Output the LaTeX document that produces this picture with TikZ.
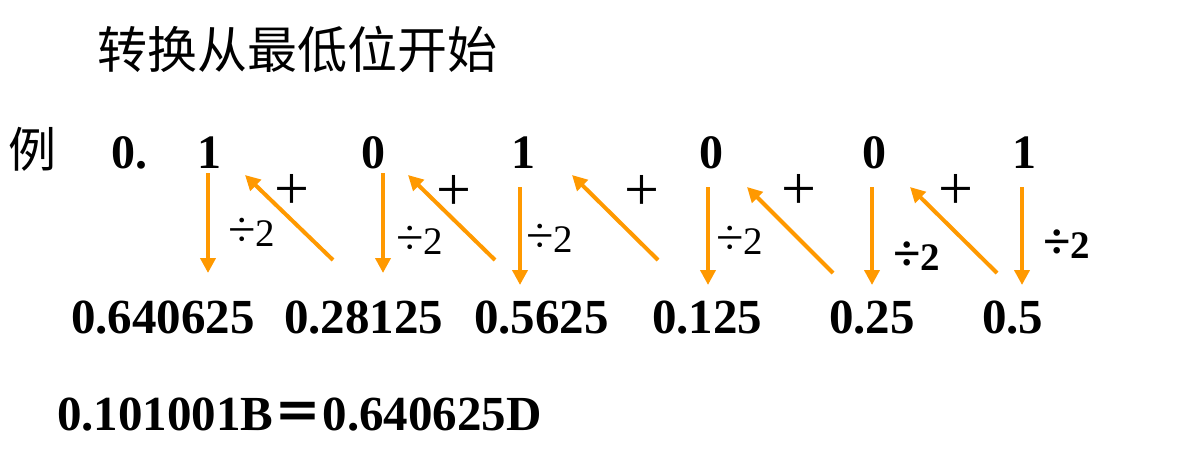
\documentclass[tikz,border=0pt]{standalone}
\usepackage{fontspec}
\setmainfont{Liberation Serif}
\newfontfamily\cjk{Noto Sans CJK SC}
\usetikzlibrary{arrows.meta}
\definecolor{arrowc}{RGB}{255,153,0}
\newcommand{\dvtwo}{{\fontsize{50}{50}\selectfont ÷}2}
\begin{document}
\begin{tikzpicture}[x=1pt,y=-1pt,
  num/.style={inner sep=0pt, font=\fontsize{49}{49}\selectfont\bfseries, anchor=base west},
  bit/.style={inner sep=0pt, font=\fontsize{48}{48}\selectfont\bfseries, anchor=base},
  plus/.style={inner sep=0pt, font=\fontsize{62}{62}\selectfont},
  divlab/.style={inner sep=0pt, font=\fontsize{39}{39}\selectfont},
  divlabb/.style={inner sep=0pt, font=\fontsize{39}{39}\selectfont\bfseries},
  zh/.style={inner sep=0pt, font=\fontsize{50}{50}\selectfont\cjk},
  arr/.style={draw=arrowc, line width=4pt, -{Triangle[length=15pt,width=15pt]}}
]
\useasboundingbox (0,0) rectangle (1198,460);

% title and example mark
\node[zh] (title) at (297,49) {转换从最低位开始};
\node[zh, font=\fontsize{48}{48}\selectfont\cjk] (li) at (33,149) {例};

% top row
\node[bit] (p0) at (129,168) {0.};
\node[bit] (b1) at (209,168) {1};
\node[bit] (b2) at (373,168) {0};
\node[bit] (b3) at (523,168) {1};
\node[bit] (b4) at (711,168) {0};
\node[bit] (b5) at (874,168) {0};
\node[bit] (b6) at (1024,168) {1};

% bottom row
\node[num] (v1) at (71,333) {0.640625};
\node[num] (v2) at (284,333) {0.28125};
\node[num] (v3) at (474,333) {0.5625};
\node[num] (v4) at (652,333) {0.125};
\node[num] (v5) at (829,333) {0.25};
\node[num] (v6) at (982,333) {0.5};

% result
\node[num] (res) at (57,430) {0.101001B{\cjk\bfseries ＝}0.640625D};

% down arrow end points
\coordinate (s1) at (208,173); \coordinate (e1) at (208,273);
\coordinate (s2) at (383,173); \coordinate (e2) at (383,273);
\coordinate (s3) at (520,187); \coordinate (e3) at (520,285);
\coordinate (s4) at (708,187); \coordinate (e4) at (708,285);
\coordinate (s5) at (872,187); \coordinate (e5) at (872,285);
\coordinate (s6) at (1022,187); \coordinate (e6) at (1022,285);
\foreach \i in {1,...,6} { \draw[arr] (s\i) -- (e\i); }

% diagonal arrow end points
\coordinate (t1) at (333,260); \coordinate (h1) at (245,175);
\coordinate (t2) at (495,260); \coordinate (h2) at (408,175);
\coordinate (t3) at (658,260); \coordinate (h3) at (572,175);
\coordinate (t4) at (833,273); \coordinate (h4) at (747,187);
\coordinate (t5) at (997,273); \coordinate (h5) at (910,187);
\foreach \i in {1,...,5} { \draw[arr] (t\i) -- (h\i); }

% labels
\node[divlab] (d1) at (252,232) {\dvtwo};
\node[divlab] (d2) at (420,240) {\dvtwo};
\node[divlab] (d3) at (550,238) {\dvtwo};
\node[divlab] (d4) at (740,240) {\dvtwo};
\node[divlabb] (d5) at (917,256) {\dvtwo};
\node[divlabb] (d6) at (1067,244) {\dvtwo};

\node[plus] (a1) at (292,192) {+};
\node[plus] (a2) at (454,193) {+};
\node[plus] (a3) at (642,193) {+};
\node[plus] (a4) at (799,192) {+};
\node[plus] (a5) at (956,192) {+};
\end{tikzpicture}
\end{document}
